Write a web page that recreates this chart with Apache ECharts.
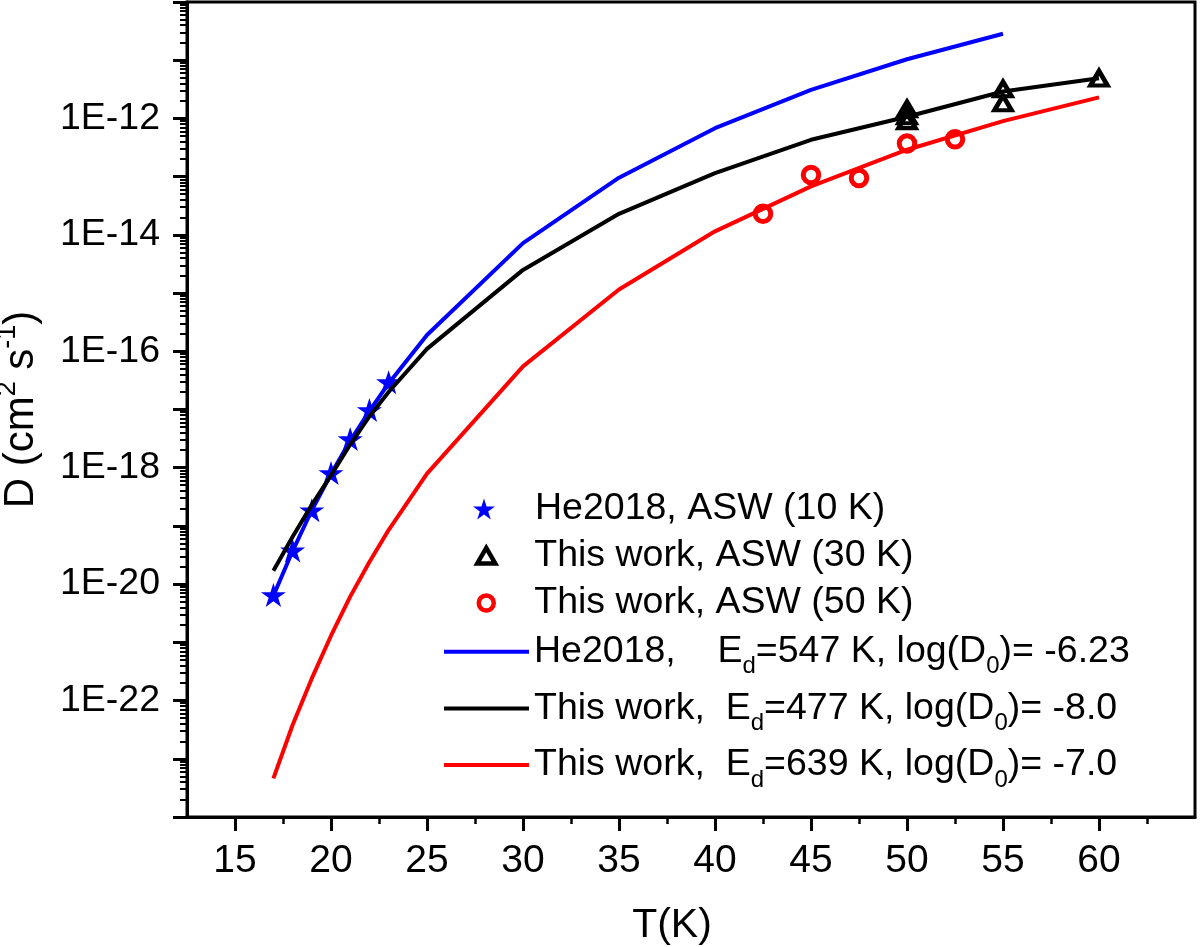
<!DOCTYPE html>
<html>
<head>
<meta charset="utf-8">
<script src="https://cdn.jsdelivr.net/npm/echarts@6/dist/echarts.min.js"></script>
<style>
html,body{margin:0;padding:0;background:#fff;}
#c{width:1200px;height:947px;}
</style>
</head>
<body>
<div id="c"></div>
<script>
// ---------- data ----------
// Fitted (Arrhenius) curves: temperature (K) and D (cm^2 s^-1)
const heFitT   = [17, 18, 19, 20, 21, 22, 23, 25, 30, 35, 40, 45, 50, 55];
const heFitD   = [6.3e-21, 3.7e-20, 1.86e-19, 7.8e-19, 2.9e-18, 9.4e-18, 2.8e-17, 1.9e-16, 7.2e-15, 9.6e-14, 6.8e-13, 3.1e-12, 1.04e-11, 2.85e-11];
const blackFitT = [17, 18, 19, 20, 21, 22, 23, 25, 30, 35, 40, 45, 50, 55, 60];
const blackFitD = [1.7e-20, 6.5e-20, 2.3e-19, 7.4e-19, 2.5e-18, 7.6e-18, 2.0e-17, 1.1e-16, 2.5e-15, 2.3e-14, 1.15e-13, 4.3e-13, 1.07e-12, 2.9e-12, 4.9e-12];
const redFitT   = [17, 18, 19, 20, 21, 22, 23, 25, 30, 35, 40, 45, 50, 55, 60];
const redFitD   = [4.6e-24, 3.8e-23, 2.4e-22, 1.3e-21, 6.1e-21, 2.4e-20, 8.5e-20, 7.9e-19, 5.5e-17, 1.15e-15, 1.15e-14, 6.8e-14, 2.9e-13, 9.0e-13, 2.3e-12];

// Measured points
const heT    = [17, 18, 19, 20, 21, 22, 23];
const heD    = [6.5e-21, 3.8e-20, 1.86e-19, 8.1e-19, 3.1e-18, 9.8e-18, 2.95e-17];
const asw30T = [50, 50, 50, 55, 55, 60];
const asw30D = [9.1e-13, 1.1e-12, 1.45e-12, 1.84e-12, 3.2e-12, 4.9e-12];
const asw50T = [42.5, 45, 47.5, 50, 52.5];
const asw50D = [2.3e-14, 1.07e-13, 9.5e-14, 3.7e-13, 4.4e-13];

// Names / labels
const pointNames = ['He2018, ASW (10 K)', 'This work, ASW (30 K)', 'This work, ASW (50 K)'];
const fitLead  = ['He2018,    E', 'This work,  E', 'This work,  E'];
const fitEd    = ['=547 K, log(D', '=477 K, log(D', '=639 K, log(D'];
const fitTail  = [')= -6.23', ')= -8.0', ')= -7.0'];
const fitNames = fitLead.map((s, i) => s + 'd' + fitEd[i] + '0' + fitTail[i]);

// Axis ticks
const xMajorTicks = [15, 20, 25, 30, 35, 40, 45, 50, 55, 60];
const xMinorTicks = [17.5, 22.5, 27.5, 32.5, 37.5, 42.5, 47.5, 52.5, 57.5, 62.5];
const yDecadeExps = [-24, -23, -22, -21, -20, -19, -18, -17, -16, -15, -14, -13, -12, -11, -10];
const yLabelExps  = [-22, -20, -18, -16, -14, -12];
const yMinorMantissas = [2, 3, 4, 5, 6, 7, 8, 9];

// ---------- chart ----------
const FONT = "'Liberation Sans', Arial, sans-serif";
const pairs = (xs, ys) => xs.map((x, i) => [x, ys[i]]);
const yMinorExps = [];
yDecadeExps.slice(0, -1).forEach(n => yMinorMantissas.forEach(k => yMinorExps.push(n + Math.log10(k))));

const starPath = 'path://M50,0 L61.23,34.55 L97.55,34.55 L68.16,55.9 L79.39,90.45 L50,69.1 L20.61,90.45 L31.84,55.9 L2.45,34.55 L38.77,34.55 Z';
const triPath = 'path://M11,0 L22,19 L0,19 Z';

const gridBox = {left: 187, right: 5, top: 2, bottom: 130, containLabel: false, outerBoundsMode: 'none'};

// scatter legend: one legend per item (icon box size, centre y)
const LEG_FS = 37.5;
const scatterLegend = (name, box, cy, itemStyle, spacer) => ({
  data: [{name: name, itemStyle: Object.assign({opacity: 1}, itemStyle || {})}],
  orient: 'vertical', left: 484 - box / 2, top: cy - 21, padding: 0,
  itemWidth: box, itemHeight: box, itemGap: 0, selectedMode: false,
  formatter: n => '{sp|}{a|' + n + '}',
  textStyle: {
    fontFamily: FONT, fontSize: LEG_FS, color: '#000', lineHeight: 42,
    rich: {
      sp: {width: spacer, fontSize: LEG_FS, lineHeight: 42},
      a: {fontFamily: FONT, fontSize: LEG_FS, color: '#000', lineHeight: 42}
    }
  }
});

const chart = echarts.init(document.getElementById('c'));
chart.setOption({
  animation: false,
  backgroundColor: '#fff',
  grid: [
    Object.assign({show: true, borderColor: '#000', borderWidth: 3, backgroundColor: 'transparent'}, gridBox),
    Object.assign({}, gridBox),
    Object.assign({}, gridBox)
  ],
  xAxis: [
    {
      gridIndex: 0, type: 'value', min: 12.5, max: 65, position: 'bottom',
      name: 'T(K)', nameLocation: 'middle', nameGap: 87,
      nameTextStyle: {fontFamily: FONT, fontSize: 41, color: '#000', lineHeight: 44, padding: [0, 38, 0, 0]},
      axisLine: {show: true, onZero: false, lineStyle: {color: '#000', width: 3}},
      axisTick: {show: true, customValues: xMajorTicks, length: 14, lineStyle: {color: '#000', width: 3}},
      axisLabel: {show: true, customValues: xMajorTicks, margin: 25, fontFamily: FONT, fontSize: 39, color: '#000'},
      splitLine: {show: false}, minorTick: {show: false}
    },
    {
      gridIndex: 1, type: 'value', min: 12.5, max: 65, position: 'bottom',
      axisLine: {show: false, onZero: false},
      axisTick: {show: true, customValues: xMinorTicks, length: 7, lineStyle: {color: '#000', width: 2.5}},
      axisLabel: {show: false}, splitLine: {show: false}
    },
    {
      gridIndex: 2, type: 'value', min: 12.5, max: 65, show: false,
      axisLine: {show: false, onZero: false}, splitLine: {show: false}
    }
  ],
  yAxis: [
    {
      gridIndex: 0, type: 'log', logBase: 10, min: 1e-24, max: 1e-10, show: false,
      axisLine: {show: false, onZero: false}, splitLine: {show: false}
    },
    {
      gridIndex: 1, type: 'value', min: -24, max: -10, position: 'left',
      name: '{a|D (cm}{p|2}{a| s}{p|-1}{a|)}', nameLocation: 'middle', nameGap: 119,
      nameTextStyle: {
        fontFamily: FONT, fontSize: 42, color: '#000',
        rich: {
          a: {fontFamily: FONT, fontSize: 42, color: '#000', lineHeight: 46},
          p: {fontFamily: FONT, fontSize: 27, color: '#000', lineHeight: 27, padding: [0, 0, 28, 0]}
        }
      },
      axisLine: {show: true, onZero: false, lineStyle: {color: '#000', width: 3}},
      axisTick: {show: true, customValues: yDecadeExps, length: 14, lineStyle: {color: '#000', width: 3}},
      axisLabel: {
        show: true, customValues: yLabelExps, margin: 27, fontFamily: FONT, fontSize: 37.5, color: '#000',
        padding: [0, 0, 8, 0],
        formatter: v => '1E' + Math.round(v)
      },
      splitLine: {show: false}
    },
    {
      gridIndex: 2, type: 'value', min: -24, max: -10, position: 'left',
      axisLine: {show: false, onZero: false},
      axisTick: {show: true, customValues: yMinorExps, length: 7, lineStyle: {color: '#000', width: 2}},
      axisLabel: {show: false}, splitLine: {show: false}
    }
  ],
  legend: [
    scatterLegend(pointNames[0], 22, 509, null, 35),
    scatterLegend(pointNames[1], 18, 555.7, {borderWidth: 4.5, borderColor: '#000', color: 'rgba(0,0,0,0)'}, 34),
    scatterLegend(pointNames[2], 15, 603, {borderWidth: 4.5, borderColor: '#ff0000', color: '#fff'}, 35.5),
    {
      data: fitNames,
      orient: 'vertical', left: 442, top: 624.7, padding: 0,
      itemWidth: 85, itemHeight: 14, itemGap: 2.7,
      selectedMode: false,
      lineStyle: {width: 4},
      formatter: name => {
        const i = fitNames.indexOf(name);
        return '{a|' + fitLead[i] + '}{s|d}{a|' + fitEd[i] + '}{s|0}{a|' + fitTail[i] + '}';
      },
      textStyle: {
        fontFamily: FONT, fontSize: LEG_FS, color: '#000',
        rich: {
          a: {fontFamily: FONT, fontSize: LEG_FS, color: '#000', lineHeight: 42},
          s: {fontFamily: FONT, fontSize: 24, color: '#000', lineHeight: 24, padding: [30, 0, 0, 0]}
        }
      }
    }
  ],
  series: [
    {
      name: fitNames[0], type: 'line', xAxisIndex: 0, yAxisIndex: 0,
      data: pairs(heFitT, heFitD), symbol: 'none', smooth: false,
      lineStyle: {color: '#0000ff', width: 4}, itemStyle: {color: 'rgba(0,0,0,0)'}
    },
    {
      name: pointNames[0], type: 'scatter', xAxisIndex: 0, yAxisIndex: 0,
      data: pairs(heT, heD), symbol: starPath, symbolSize: [25, 24],
      itemStyle: {color: '#0000ff', opacity: 1}
    },
    {
      name: fitNames[1], type: 'line', xAxisIndex: 0, yAxisIndex: 0,
      data: pairs(blackFitT, blackFitD), symbol: 'none', smooth: false,
      lineStyle: {color: '#000000', width: 4}, itemStyle: {color: 'rgba(0,0,0,0)'}
    },
    {
      name: pointNames[1], type: 'scatter', xAxisIndex: 0, yAxisIndex: 0,
      data: pairs(asw30T, asw30D), symbol: triPath, symbolSize: [17, 14.5],
      itemStyle: {color: 'rgba(0,0,0,0)', borderColor: '#000', borderWidth: 4.5, opacity: 1}
    },
    {
      name: fitNames[2], type: 'line', xAxisIndex: 0, yAxisIndex: 0,
      data: pairs(redFitT, redFitD), symbol: 'none', smooth: false,
      lineStyle: {color: '#ff0000', width: 4}, itemStyle: {color: 'rgba(0,0,0,0)'}
    },
    {
      name: pointNames[2], type: 'scatter', xAxisIndex: 0, yAxisIndex: 0,
      data: pairs(asw50T, asw50D), symbol: 'circle', symbolSize: 15.5,
      itemStyle: {color: '#fff', borderColor: '#ff0000', borderWidth: 5, opacity: 1}
    }
  ]
});
</script>
</body>
</html>
